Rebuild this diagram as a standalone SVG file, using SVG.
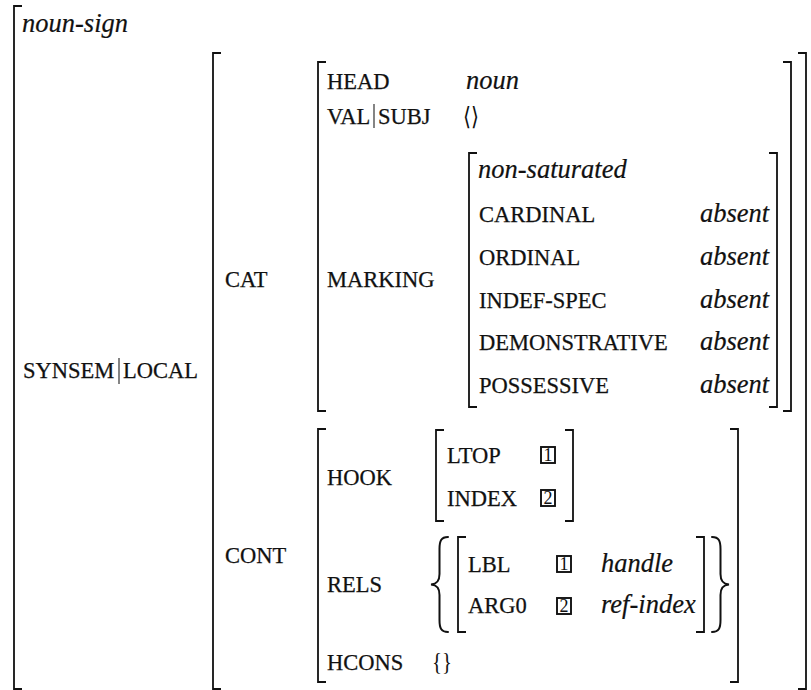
<svg xmlns="http://www.w3.org/2000/svg" width="811" height="690" viewBox="0 0 811 690">
  <style>
    .br { fill: none; stroke: #111; stroke-width: 1.8; }
    .brace { fill: none; stroke: #111; stroke-width: 2; stroke-linecap: round; }
    .bar { stroke: #333; stroke-width: 1.2; }
    .sc { font-family: "Liberation Serif", "Times New Roman", "DejaVu Serif", serif; font-size: 22.5px; fill: #111; stroke: #111; stroke-width: 0.25; }
    .it { font-family: "Liberation Serif", "Times New Roman", "DejaVu Serif", serif; font-size: 26.5px; font-style: italic; fill: #111; stroke: #111; stroke-width: 0.2; }
    .dl { font-family: "Liberation Serif", "DejaVu Serif", serif; font-size: 26px; fill: #111; }
    .tag rect { fill: none; stroke: #111; stroke-width: 1.9; }
    .tag text { font-family: "Liberation Serif", "Times New Roman", serif; font-size: 18px; fill: #111; text-anchor: middle; }
  </style>
  <rect width="811" height="690" fill="#fff"/>

  <!-- outermost matrix: noun-sign -->
  <g id="avm-noun-sign">
    <path class="br" d="M22,6 H14 V689 H22"/>
    <text class="it" x="22" y="32">noun-sign</text>
    <text class="sc" x="23" y="378">SYNSEM</text>
    <line class="bar" x1="119" y1="358" x2="119" y2="384"/>
    <text class="sc" x="123" y="378">LOCAL</text>
  </g>

  <!-- value of SYNSEM|LOCAL -->
  <g id="avm-local">
    <path class="br" d="M221,53 H213 V689 H221"/>
    <path class="br" d="M798,53 H806 V689 H798"/>
    <text class="sc" x="225" y="287">CAT</text>
    <text class="sc" x="225" y="563">CONT</text>
  </g>

  <!-- CAT value -->
  <g id="avm-cat">
    <path class="br" d="M326,62 H318 V411 H326"/>
    <path class="br" d="M783,62 H791 V411 H783"/>
    <text class="sc" x="327" y="89">HEAD</text>
    <text class="it" x="466" y="89">noun</text>
    <text class="sc" x="327" y="124">VAL</text>
    <line class="bar" x1="374" y1="104" x2="374" y2="128"/>
    <text class="sc" x="378" y="124">SUBJ</text>
    <text class="dl" x="463" y="125" textLength="16" lengthAdjust="spacingAndGlyphs" style="font-family:'DejaVu Sans','Noto Sans',sans-serif;font-size:25px">⟨⟩</text>
    <text class="sc" x="327" y="287">MARKING</text>
  </g>

  <!-- MARKING value -->
  <g id="avm-marking">
    <path class="br" d="M477,153 H469 V407 H477"/>
    <path class="br" d="M769,153 H777 V407 H769"/>
    <text class="it" x="478" y="178">non-saturated</text>
    <text class="sc" x="479" y="222">CARDINAL</text>
    <text class="it" x="700" y="222">absent</text>
    <text class="sc" x="479" y="265">ORDINAL</text>
    <text class="it" x="700" y="265">absent</text>
    <text class="sc" x="479" y="308">INDEF-SPEC</text>
    <text class="it" x="700" y="308">absent</text>
    <text class="sc" x="479" y="350">DEMONSTRATIVE</text>
    <text class="it" x="700" y="350">absent</text>
    <text class="sc" x="479" y="393">POSSESSIVE</text>
    <text class="it" x="700" y="393">absent</text>
  </g>

  <!-- CONT value -->
  <g id="avm-cont">
    <path class="br" d="M326,429 H318 V682 H326"/>
    <path class="br" d="M730,429 H738 V682 H730"/>
    <text class="sc" x="327" y="485">HOOK</text>
    <text class="sc" x="327" y="592">RELS</text>
    <text class="sc" x="327" y="670">HCONS</text>
    <text class="dl" x="432" y="670" textLength="20" lengthAdjust="spacingAndGlyphs">{}</text>
  </g>

  <!-- HOOK value -->
  <g id="avm-hook">
    <path class="br" d="M444,430 H436 V521 H444"/>
    <path class="br" d="M565,430 H573 V521 H565"/>
    <text class="sc" x="447" y="463">LTOP</text>
    <g class="tag"><rect x="541" y="447" width="14" height="16"/><text x="548" y="461">1</text></g>
    <text class="sc" x="447" y="506">INDEX</text>
    <g class="tag"><rect x="541" y="490" width="14" height="16"/><text x="548" y="504">2</text></g>
  </g>

  <!-- RELS value: a set holding one relation -->
  <g id="avm-rels">
    <path class="brace" d="M448,537 C441,537 439.5,541 439.5,549 V574 C439.5,581 437,584 431,584.5 C437,585 439.5,588 439.5,595 V620 C439.5,628 441,632 448,632"/>
    <path class="br" d="M466,537 H458 V632 H466"/>
    <text class="sc" x="468" y="572">LBL</text>
    <g class="tag"><rect x="557" y="556" width="14" height="16"/><text x="564" y="570">1</text></g>
    <text class="it" x="601" y="572">handle</text>
    <text class="sc" x="468" y="613">ARG0</text>
    <g class="tag"><rect x="557" y="598" width="14" height="16"/><text x="564" y="612">2</text></g>
    <text class="it" x="601" y="613">ref-index</text>
    <path class="br" d="M696,537 H704 V632 H696"/>
    <path class="brace" d="M712,537 C719,537 720.5,541 720.5,549 V574 C720.5,581 723,584 729,584.5 C723,585 720.5,588 720.5,595 V620 C720.5,628 719,632 712,632"/>
  </g>
</svg>
